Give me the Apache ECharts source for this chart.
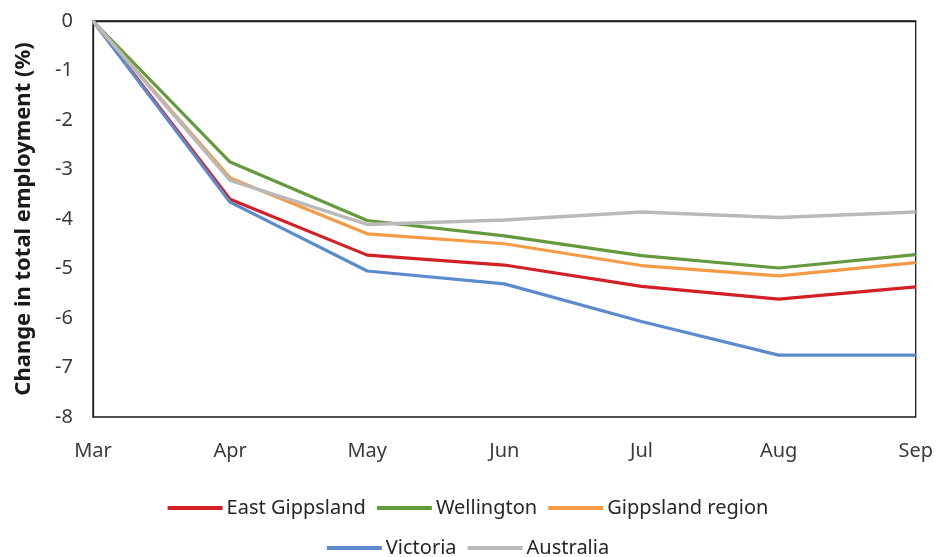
<!DOCTYPE html>
<html>
<head>
<meta charset="utf-8">
<script src="https://cdn.jsdelivr.net/npm/echarts@6/dist/echarts.min.js"></script>
<style>
  html, body { margin: 0; padding: 0; background: #fff; }
  #chart { width: 936px; height: 557px; }
</style>
</head>
<body>
<div id="chart"></div>
<script>
const months = ['Mar', 'Apr', 'May', 'Jun', 'Jul', 'Aug', 'Sep']
const eastGippsland = [0, -3.6, -4.73, -4.93, -5.36, -5.62, -5.37]
const wellington = [0, -2.85, -4.03, -4.34, -4.74, -4.99, -4.72]
const gippslandRegion = [0, -3.17, -4.3, -4.5, -4.94, -5.15, -4.88]
const victoria = [0, -3.66, -5.05, -5.31, -6.07, -6.75, -6.75]
const australia = [0, -3.22, -4.11, -4.02, -3.86, -3.97, -3.86]

const font = 'Noto Sans'
const textColor = '#3a3a3a'

const line = (name, data, color, width) => ({
  name,
  type: 'line',
  data,
  symbol: 'none',
  color,
  lineStyle: { color, width: width || 3.2 },
  emphasis: { disabled: true }
})

const legendCommon = {
  icon: 'rect',
  itemWidth: 55,
  itemHeight: 4,
  itemGap: 11,
  textStyle: { fontFamily: font, fontSize: 20, color: '#262626', padding: [0, 0, 0, -1] },
  left: 'center'
}

const chart = echarts.init(document.getElementById('chart'), null, { renderer: 'canvas' })
chart.setOption({
  backgroundColor: '#fff',
  animation: false,
  grid: {
    left: 93, right: 19, top: 21, bottom: 140,
    show: true, borderColor: '#1a1a1a', borderWidth: 1.3
  },
  legend: [
    Object.assign({ top: 493, data: ['East Gippsland', 'Wellington', 'Gippsland region'] }, legendCommon),
    Object.assign({ top: 533, data: ['Victoria', 'Australia'] }, legendCommon)
  ],
  xAxis: {
    type: 'category',
    data: months,
    boundaryGap: false,
    axisLine: { show: true, lineStyle: { color: '#1a1a1a', width: 1.3 } },
    axisTick: { show: false },
    axisLabel: { fontFamily: font, fontSize: 20, color: textColor, margin: 24 },
    splitLine: { show: false }
  },
  yAxis: {
    type: 'value',
    min: -8,
    max: 0,
    interval: 1,
    name: 'Change in total employment (%)',
    nameLocation: 'middle',
    nameGap: 58,
    nameTextStyle: { fontFamily: font, fontSize: 22, fontWeight: 'bold', color: '#1a1a1a' },
    axisLine: { show: true, lineStyle: { color: '#1a1a1a', width: 1.3 } },
    axisTick: { show: false },
    axisLabel: { fontFamily: font, fontSize: 20, color: textColor, margin: 20 },
    splitLine: { show: false }
  },
  series: [
    line('East Gippsland', eastGippsland, '#D32027'),
    line('Wellington', wellington, '#629A3D'),
    line('Gippsland region', gippslandRegion, '#F59A45'),
    line('Victoria', victoria, '#5B8ACD'),
    line('Australia', australia, '#B9B9B9', 3.5)
  ]
})
</script>
</body>
</html>
